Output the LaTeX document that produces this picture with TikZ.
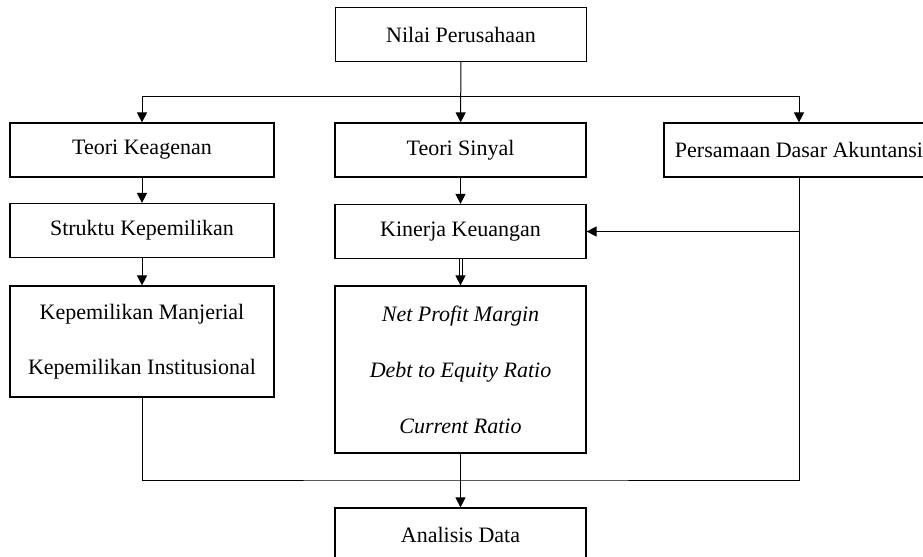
\documentclass[tikz,border=0pt]{standalone}
\usepackage{fontspec}
\setmainfont{Liberation Serif}
\usetikzlibrary{arrows.meta}
\tikzset{
    box/.style={
        draw,
        line width=0.6pt,
        minimum width=#1,
        minimum height=27pt,
        inner sep=0pt,
        font=\fontsize{11}{13}\selectfont
    },
    box/.default=125.5pt,
    tallbox/.style 2 args={
        box=#1,
        minimum height=#2,
        align=center,
        font=\fontsize{11}{27.5}\selectfont
    },
    arr/.style={
        -{Triangle[length=5pt,width=5pt]},
        line width=0.5pt
    },
    line/.style={line width=0.5pt}
}

\begin{document}
\begin{tikzpicture}[x=0.5pt, y=-0.5pt]
    \clip (0,0) rectangle (923,557);

    % Boxes
    \node[box] (nilai) at (461,34.5) {Nilai Perusahaan};
    \node[box=132pt] (keagenan) at (142,150) {Teori Keagenan};
    \node[box] (sinyal) at (460.5,150) {Teori Sinyal};
    \node[box=135pt] (persamaan) at (799,150) {Persamaan Dasar Akuntansi};
    \node[box=132pt] (struktur) at (142,230.5) {Struktu Kepemilikan};
    \node[box] (kinerja) at (460.5,231.5) {Kinerja Keuangan};
    \node[tallbox={132pt}{55.5pt}] (kepemilikan) at (142,341.5)
        {Kepemilikan Manjerial\\Kepemilikan Institusional};
    \node[tallbox={125.5pt}{83.5pt}, font=\fontsize{11}{28}\selectfont\itshape] (rasio) at (460.5,369.5)
        {Net Profit Margin\\Debt to Equity Ratio\\Current Ratio};
    \node[box] (analisis) at (460.5,535) {Analisis Data};

    % Helper points
    \coordinate (cabang) at (461,96);
    \coordinate (sambung) at (persamaan.south |- kinerja.east);
    \coordinate (gabung) at (461,480);

    % Arrows
    \draw[arr] (nilai) -- (sinyal);
    \draw[arr] (cabang) -| (keagenan.north);
    \draw[arr] (cabang) -| (persamaan.north);
    \draw[arr] (keagenan) -- (struktur);
    \draw[arr] (sinyal) -- (kinerja);
    \draw[arr] (struktur) -- (kepemilikan);
    \draw[arr, double, double distance=1pt] (kinerja) -- (rasio);
    \draw[arr] (sambung) -- (kinerja.east);

    % Lines into the analysis
    \draw[line] (kepemilikan.south) |- (gabung) -| (persamaan.south);
    \draw[arr] (rasio) -- (analisis);
\end{tikzpicture}
\end{document}
